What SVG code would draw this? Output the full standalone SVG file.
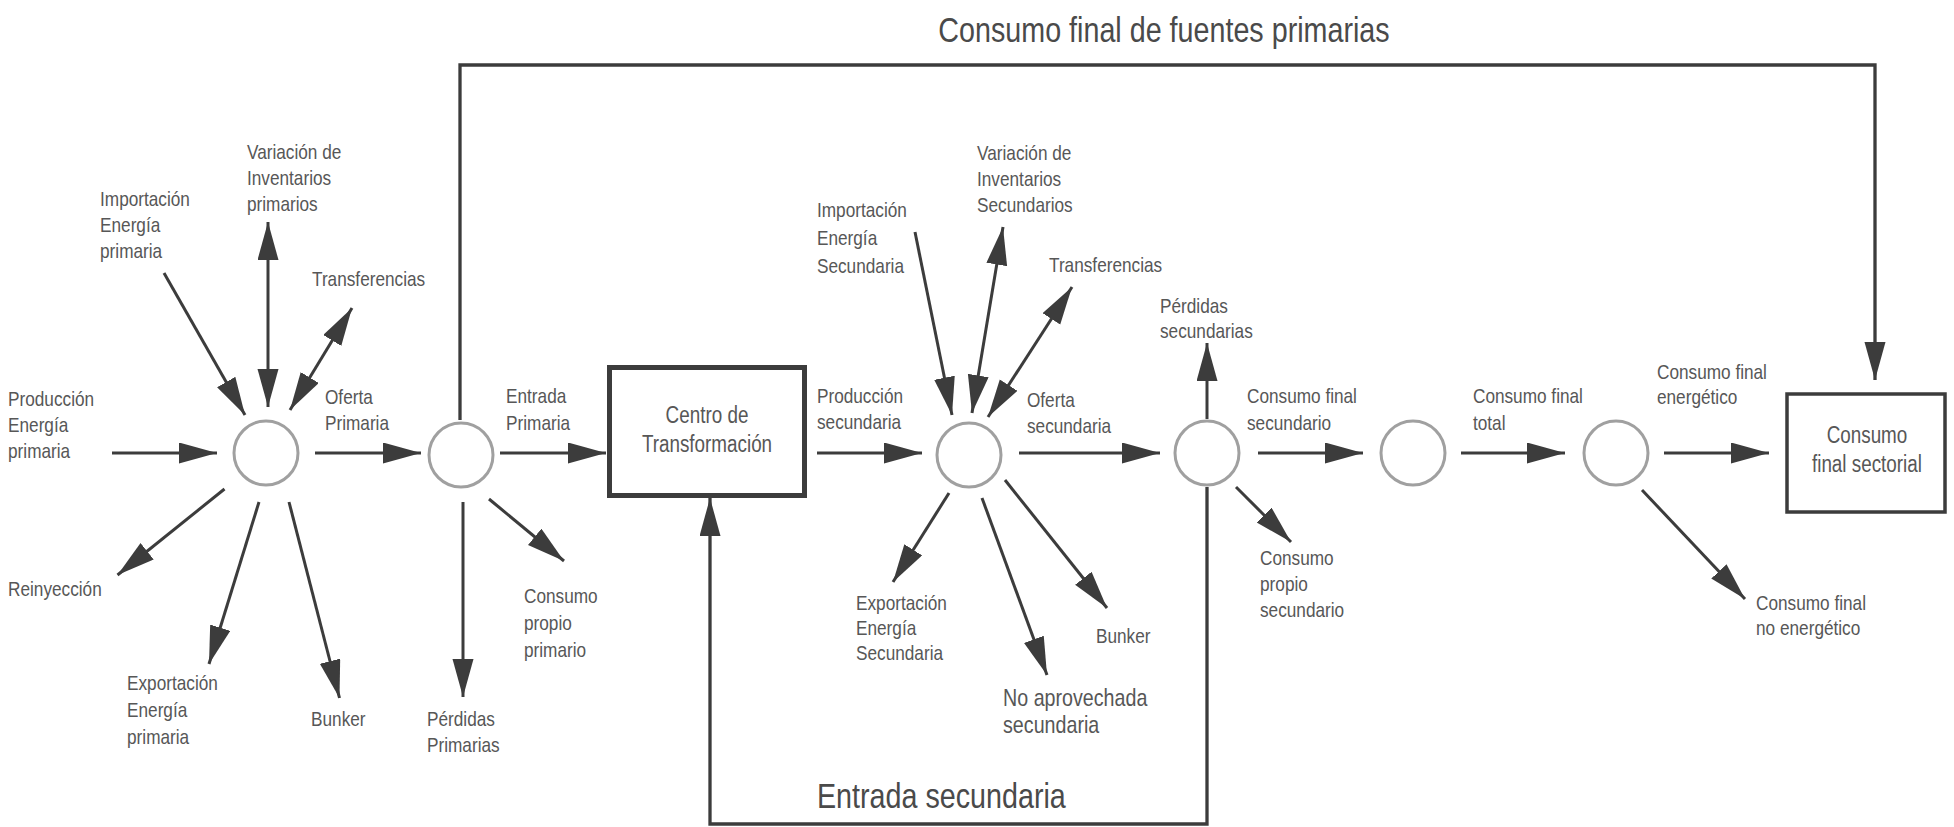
<svg xmlns="http://www.w3.org/2000/svg" width="1954" height="827" viewBox="0 0 1954 827">
<style>
text{font-family:"Liberation Sans",Arial,sans-serif;fill:#575757}
.lb{font-size:21px}
.big{font-size:24px}
.box{font-size:23px;text-anchor:middle}
.title{font-size:35px;fill:#4a4a4a}
.ln{stroke:#3c3c3c;stroke-width:3;fill:none;marker-end:url(#ah)}
.dbl{marker-start:url(#ah)}
.loop{stroke:#3c3c3c;stroke-width:3.3;fill:none;marker-end:url(#ah)}
.c{fill:#fff;stroke:#a0a0a0;stroke-width:3}
.bx{fill:#fff;stroke:#3c3c3c}
</style>
<defs>
<marker id="ah" markerUnits="userSpaceOnUse" markerWidth="40" markerHeight="22" refX="38" refY="10.5" orient="auto-start-reverse">
<path d="M0,0 L38,10.5 L0,21 z" fill="#3c3c3c"/>
</marker>
</defs>
<rect width="1954" height="827" fill="#fff"/>
<g id="connectors">
<path class="loop" d="M460,420 V65 H1875 V380"/>
<path class="loop" d="M1207,487 V824 H710 V498"/>
<line class="ln" x1="112" y1="453" x2="217" y2="453"/>
<line class="ln" x1="164" y1="273" x2="245" y2="415"/>
<line class="ln" x1="315" y1="453" x2="421" y2="453"/>
<line class="ln" x1="224.5" y1="489" x2="117.5" y2="575"/>
<line class="ln" x1="259" y1="502" x2="209" y2="664"/>
<line class="ln" x1="289" y1="502" x2="339.5" y2="698"/>
<line class="ln" x1="463" y1="502" x2="463" y2="697"/>
<line class="ln" x1="489" y1="499" x2="564" y2="561"/>
<line class="ln" x1="500" y1="453" x2="606" y2="453"/>
<line class="ln" x1="817" y1="453" x2="922" y2="453"/>
<line class="ln" x1="915" y1="232" x2="952" y2="415"/>
<line class="ln" x1="1019" y1="453" x2="1160" y2="453"/>
<line class="ln" x1="1207" y1="419" x2="1207" y2="343"/>
<line class="ln" x1="949" y1="493" x2="893" y2="582"/>
<line class="ln" x1="982" y1="498" x2="1047" y2="675"/>
<line class="ln" x1="1005" y1="480" x2="1107" y2="608"/>
<line class="ln" x1="1258" y1="453" x2="1363" y2="453"/>
<line class="ln" x1="1236" y1="487" x2="1291" y2="542"/>
<line class="ln" x1="1461" y1="453" x2="1565" y2="453"/>
<line class="ln" x1="1664" y1="453" x2="1769" y2="453"/>
<line class="ln" x1="1642" y1="490" x2="1745" y2="599"/>
<line class="ln dbl" x1="268" y1="222" x2="268" y2="407"/>
<line class="ln dbl" x1="352" y1="308" x2="290" y2="410"/>
<line class="ln dbl" x1="1003" y1="227" x2="972" y2="413"/>
<line class="ln dbl" x1="1072" y1="287" x2="988" y2="417"/>
</g>
<g id="n_c1"><circle class="c" cx="266" cy="453" r="32"/></g>
<g id="n_c2"><circle class="c" cx="461" cy="455" r="32"/></g>
<g id="n_c3"><circle class="c" cx="969" cy="455" r="32"/></g>
<g id="n_c4"><circle class="c" cx="1207" cy="453" r="32"/></g>
<g id="n_c5"><circle class="c" cx="1413" cy="453" r="32"/></g>
<g id="n_c6"><circle class="c" cx="1616" cy="453" r="32"/></g>
<g id="n_centro">
<rect class="bx" x="609.5" y="367.5" width="195" height="128" stroke-width="5"/>
<g transform="scale(0.82 1)">
<text class="box" x="862.2" y="423">Centro de</text>
<text class="box" x="862.2" y="452">Transformación</text>
</g>
</g>
<g id="n_sectorial">
<rect class="bx" x="1787" y="394" width="158" height="118" stroke-width="3.5"/>
<g transform="scale(0.82 1)">
<text class="box" x="2276.8" y="443">Consumo</text>
<text class="box" x="2276.8" y="472">final sectorial</text>
</g>
</g>
<g id="labels" transform="scale(0.82 1)">
<text class="title" x="1419.5" y="42" text-anchor="middle">Consumo final de fuentes primarias</text>
<text class="title" x="996.3" y="808">Entrada secundaria</text>
<text class="lb" x="9.8" y="406">Producción</text><text class="lb" x="9.8" y="432">Energía</text><text class="lb" x="9.8" y="458">primaria</text>
<text class="lb" x="122" y="206">Importación</text><text class="lb" x="122" y="232">Energía</text><text class="lb" x="122" y="258">primaria</text>
<text class="lb" x="301.2" y="159">Variación de</text><text class="lb" x="301.2" y="185">Inventarios</text><text class="lb" x="301.2" y="211">primarios</text>
<text class="lb" x="380.5" y="286">Transferencias</text>
<text class="lb" x="396.3" y="404">Oferta</text><text class="lb" x="396.3" y="430">Primaria</text>
<text class="lb" x="9.8" y="596">Reinyección</text>
<text class="lb" x="154.9" y="690">Exportación</text><text class="lb" x="154.9" y="717">Energía</text><text class="lb" x="154.9" y="744">primaria</text>
<text class="lb" x="379.3" y="726">Bunker</text>
<text class="lb" x="520.7" y="726">Pérdidas</text><text class="lb" x="520.7" y="752">Primarias</text>
<text class="lb" x="639" y="603">Consumo</text><text class="lb" x="639" y="630">propio</text><text class="lb" x="639" y="657">primario</text>
<text class="lb" x="617.1" y="403">Entrada</text><text class="lb" x="617.1" y="430">Primaria</text>
<text class="lb" x="996.3" y="403">Producción</text><text class="lb" x="996.3" y="429">secundaria</text>
<text class="lb" x="996.3" y="217">Importación</text><text class="lb" x="996.3" y="245">Energía</text><text class="lb" x="996.3" y="273">Secundaria</text>
<text class="lb" x="1191.5" y="160">Variación de</text><text class="lb" x="1191.5" y="186">Inventarios</text><text class="lb" x="1191.5" y="212">Secundarios</text>
<text class="lb" x="1279.3" y="272">Transferencias</text>
<text class="lb" x="1252.4" y="407">Oferta</text><text class="lb" x="1252.4" y="433">secundaria</text>
<text class="lb" x="1414.6" y="313">Pérdidas</text><text class="lb" x="1414.6" y="338">secundarias</text>
<text class="lb" x="1043.9" y="610">Exportación</text><text class="lb" x="1043.9" y="635">Energía</text><text class="lb" x="1043.9" y="660">Secundaria</text>
<text class="big" x="1223.2" y="706">No aprovechada</text><text class="big" x="1223.2" y="733">secundaria</text>
<text class="lb" x="1336.6" y="643">Bunker</text>
<text class="lb" x="1520.7" y="403">Consumo final</text><text class="lb" x="1520.7" y="430">secundario</text>
<text class="lb" x="1536.6" y="565">Consumo</text><text class="lb" x="1536.6" y="591">propio</text><text class="lb" x="1536.6" y="617">secundario</text>
<text class="lb" x="1796.3" y="403">Consumo final</text><text class="lb" x="1796.3" y="430">total</text>
<text class="lb" x="2020.7" y="379">Consumo final</text><text class="lb" x="2020.7" y="404">energético</text>
<text class="lb" x="2141.5" y="610">Consumo final</text><text class="lb" x="2141.5" y="635">no energético</text>
</g>
</svg>
